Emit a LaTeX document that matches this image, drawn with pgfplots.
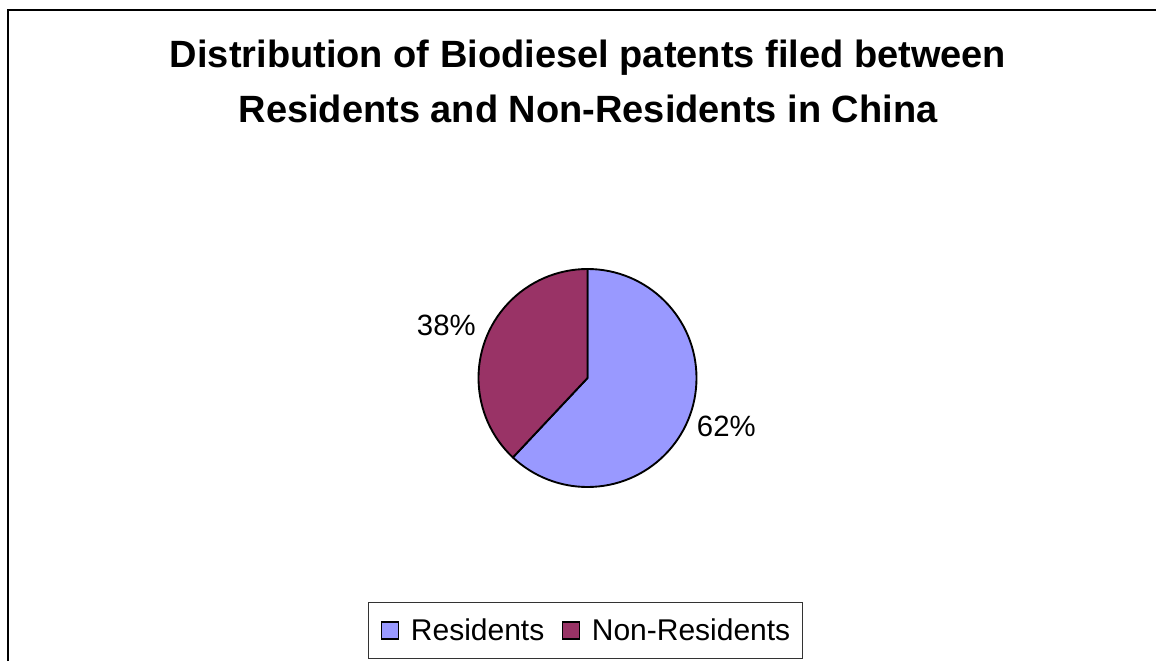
\documentclass[border=0pt]{standalone}
\usepackage{pgfplots}
\pgfplotsset{compat=1.18}
\usepackage{pgfplotstable}
\usepackage{fontspec}
\setmainfont{Liberation Sans}
\definecolor{resid}{RGB}{153,153,255}
\definecolor{nonres}{RGB}{153,51,102}

\pgfplotstableread{
label value
Residents 62
Non-Residents 38
}\piedata
\pgfplotstablegetelem{0}{value}\of\piedata \let\vRes\pgfplotsretval
\pgfplotstablegetelem{1}{value}\of\piedata \let\vNon\pgfplotsretval
\pgfmathsetmacro\total{\vRes+\vNon}
\pgfmathsetmacro\fRes{\vRes/\total}
\pgfmathsetmacro\fNon{\vNon/\total}
\pgfmathsetmacro\aRes{90-360*\fRes}
\pgfmathsetmacro\aNon{\aRes-360*\fNon}
\pgfmathtruncatemacro\pRes{round(100*\fRes)}
\pgfmathtruncatemacro\pNon{round(100*\fNon)}
\def\pieR{81.75pt}

\begin{document}
\begin{tikzpicture}
\begin{axis}[
  name=ax,
  hide axis, scale only axis,
  width=867pt, height=495.75pt,
  xmin=0, xmax=1156, ymin=0, ymax=661,
  clip=false,
  legend columns=2,
  legend image code/.code={\draw[#1, line width=0.9pt] (0pt,-6.375pt) rectangle (12.75pt,6.375pt);},
  legend style={at={(0.50649,0.04614)}, anchor=center, draw=black!80, line width=0.75pt,
    font=\fontsize{22.5}{27}\selectfont, inner xsep=9pt, inner ysep=12pt,
    nodes={inner sep=0pt},
    /tikz/every odd column/.append style={column sep=9pt},
    /tikz/every even column/.append style={column sep=13pt}},
]
\addlegendimage{fill=resid, draw=black}
\addlegendentry{Residents}
\addlegendimage{fill=nonres, draw=black}
\addlegendentry{Non-Residents}

% frame
\draw[line width=1.3pt, black] (axis cs:8,0) -- (axis cs:8,651) -- (axis cs:1156,651);

% title
\node[anchor=base, inner sep=0pt, font=\fontsize{28.5}{34}\bfseries] at (axis cs:588,593)
  {Distribution of Biodiesel patents filed between};
\node[anchor=base, inner sep=0pt, font=\fontsize{28.5}{34}\bfseries] at (axis cs:588,538)
  {Residents and Non-Residents in China};

% pie
\filldraw[fill=resid, draw=black, line width=1.4pt, line join=round]
  (axis cs:587.5,283) -- ++(90:\pieR) arc[start angle=90, end angle=\aRes, radius=\pieR] -- cycle;
\filldraw[fill=nonres, draw=black, line width=1.4pt, line join=round]
  (axis cs:587.5,283) -- ++(\aRes:\pieR) arc[start angle=\aRes, end angle=\aNon, radius=\pieR] -- cycle;

% labels
\node[anchor=base west, inner sep=0pt, font=\fontsize{22}{26}\selectfont] at (axis cs:416.7,325) {\pNon\%};
\node[anchor=base west, inner sep=0pt, font=\fontsize{22}{26}\selectfont] at (axis cs:696.7,224.3) {\pRes\%};
\end{axis}
\pgfresetboundingbox
\path (ax.south west) rectangle (ax.north east);
\end{tikzpicture}
\end{document}
